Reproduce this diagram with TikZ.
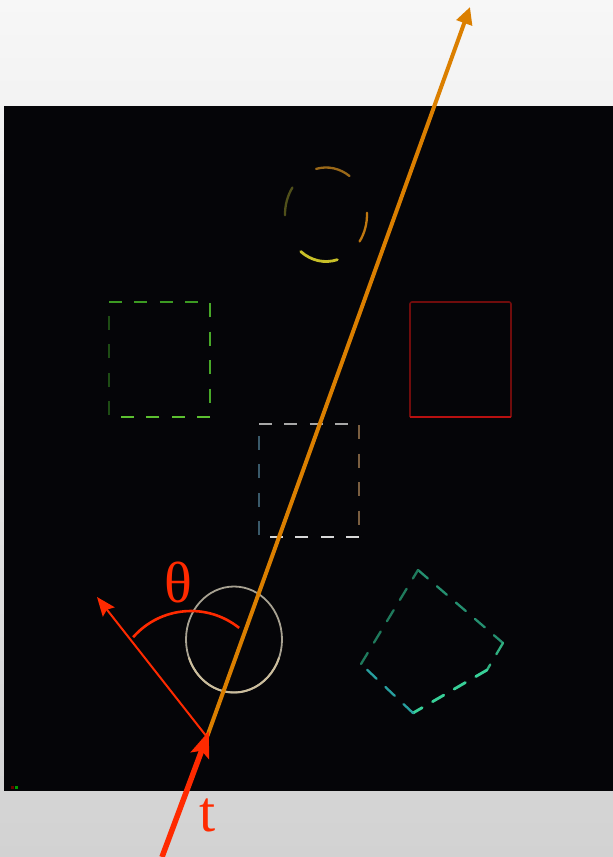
\documentclass[tikz,border=0pt]{standalone}
\usepackage{fontspec}
\setmainfont{Liberation Serif}
\usetikzlibrary{arrows.meta}
\definecolor{bgtop}{HTML}{F7F7F7}
\definecolor{bgbot}{HTML}{D2D2D2}
\definecolor{panel}{HTML}{050508}
\definecolor{orangeray}{HTML}{DB7F00}
\definecolor{redray}{HTML}{FF2A00}
\definecolor{ytop}{HTML}{9A6818}
\definecolor{yright}{HTML}{C07810}
\definecolor{ybot}{HTML}{C8C028}
\definecolor{yleft}{HTML}{50501A}
\definecolor{gtop}{HTML}{3C9A22}
\definecolor{gright}{HTML}{48A828}
\definecolor{gbot}{HTML}{5CC030}
\definecolor{gleft}{HTML}{1E4C14}
\definecolor{rdim}{HTML}{700C0C}
\definecolor{rbright}{HTML}{B81010}
\definecolor{wtop}{HTML}{A8A8A8}
\definecolor{wright}{HTML}{7A5E40}
\definecolor{wbot}{HTML}{D8D8D8}
\definecolor{wleft}{HTML}{3A5A6A}
\definecolor{beige}{HTML}{A8A292}
\definecolor{beigeb}{HTML}{CBBD9C}
\definecolor{tleft}{HTML}{1F7A5C}
\definecolor{ttop}{HTML}{259070}
\definecolor{tright}{HTML}{30B080}
\definecolor{tbot}{HTML}{38D098}
\definecolor{tll}{HTML}{28A0A0}
\tikzset{
  hdash/.style={line width=2.2pt, dash pattern=on 13pt off 12.3pt},
  vdash/.style={line width=2.2pt, dash pattern=on 14pt off 14.5pt},
  tdash/.style={line width=2.3pt, dash pattern=on 13pt off 12pt, line cap=round},
  yarc/.style={line width=2.3pt, line cap=round},
  lbl/.style={text=redray, font=\fontsize{58}{60}\selectfont, inner sep=0pt}
}
\begin{document}
\begin{tikzpicture}[x=1pt,y=-1pt]
\useasboundingbox (0,0) rectangle (613,857);
\shade[top color=bgtop, bottom color=bgbot] (0,0) rectangle (613,857);
\fill[panel] (4,106) rectangle (613,791);
% tiny dots bottom-left
\fill[red!40!black] (11,786) rectangle (14,789);
\fill[green!60!black] (15,786) rectangle (18,789);

% dashed ellipse (top)
\coordinate (yc) at (326,214.5);
\draw[ytop, yarc] (yc) ++(55:41pt and 47pt) arc[start angle=55, end angle=104, x radius=41pt, y radius=47pt];
\draw[yright, yarc] (yc) ++(-35:41pt and 47pt) arc[start angle=-35, end angle=2, x radius=41pt, y radius=47pt];
\draw[ybot, yarc, line width=2.8pt] (yc) ++(-128:41pt and 47pt) arc[start angle=-128, end angle=-74, x radius=41pt, y radius=47pt];
\draw[yleft, yarc] (yc) ++(145:41pt and 47pt) arc[start angle=145, end angle=181, x radius=41pt, y radius=47pt];

% green dashed square
\coordinate (g1) at (109,302); \coordinate (g2) at (210,302);
\coordinate (g3) at (210,417); \coordinate (g4) at (109,417);
\draw[gtop, hdash] (g1) -- (g2);
\draw[gright, vdash] (g2) ++(0,1) -- (g3);
\draw[gbot, hdash] (g3) -- (g4);
\draw[gleft, vdash, dash phase=26.5pt] (g4) -- (g1);

% red solid square
\coordinate (r1) at (410,302); \coordinate (r2) at (511,302);
\coordinate (r3) at (511,417); \coordinate (r4) at (410,417);
\draw[rdim, line width=1.6pt, rounded corners=2pt] (r4) -- (r1) -- (r2) -- (r3);
\draw[rbright, line width=2.4pt] (r3) -- (r4);

% gray dashed square
\coordinate (w1) at (259,424); \coordinate (w2) at (359,424);
\coordinate (w3) at (359,537); \coordinate (w4) at (259,537);
\draw[wtop, hdash] (w1) -- (w2);
\draw[wright, vdash] (w2) ++(0,1) -- (w3);
\draw[wbot, hdash] (w3) -- (w4);
\draw[wleft, vdash, dash phase=26.5pt] (w4) -- (w1);

% beige circle
\coordinate (bc) at (234,639.5);
\draw[beige, line width=1.8pt] (bc) ellipse [x radius=48pt, y radius=53pt];
\draw[beigeb, line width=2pt] (bc) ++(200:48pt and 53pt) arc[start angle=200, end angle=340, x radius=48pt, y radius=53pt];

% teal dashed quadrilateral
\coordinate (tT) at (418,570); \coordinate (tR) at (503,643);
\coordinate (tC) at (487,670); \coordinate (tB) at (413,713);
\coordinate (tL) at (361,664);
\draw[ttop, tdash] (tT) -- (tR);
\draw[tright, tdash] (tR) -- (tC);
\draw[tbot, tdash, line width=2.8pt] (tC) -- (tB);
\draw[tll, tdash] (tB) -- (tL);
\draw[tleft, tdash] (tL) -- (tT);

% rays
\coordinate (O) at (207,737);
\coordinate (far) at (470,7);
\coordinate (nrm) at (97,597);
\coordinate (src) at (162,857);
\draw[redray, line width=2pt, -{Stealth[length=19pt, width=15pt, inset=3pt]}] (O) -- (nrm);
\draw[orangeray, line width=4pt, -{Triangle[length=17pt, width=16pt]}] (O) -- (far);
\draw[redray, line width=5.5pt, -{Stealth[length=26pt, width=19pt, inset=5pt]}] (src) -- (209,731);

% angle arc
\coordinate (ac) at (191,688);
\draw[redray, line width=2.6pt] (ac) ++(138.7:77pt) arc[start angle=138.7, end angle=51.3, radius=77pt];

\node[lbl] (theta) at (178,582) {θ};
\node[lbl] (tl) at (208,815) {t};
\end{tikzpicture}
\end{document}
